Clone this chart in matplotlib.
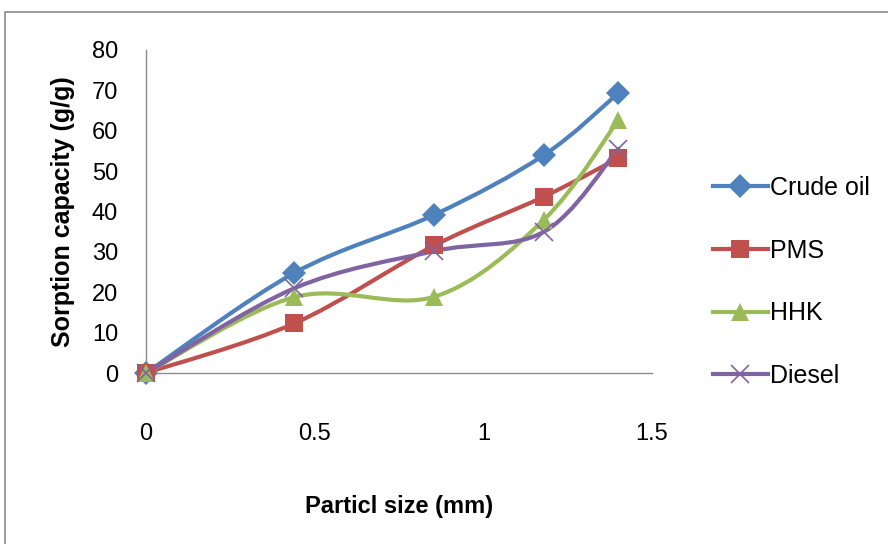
import numpy as np
import matplotlib
matplotlib.use("Agg")
import matplotlib.pyplot as plt
from matplotlib.patches import Rectangle
from matplotlib.path import Path
from matplotlib.patches import PathPatch

plt.rcParams['font.family'] = ['Liberation Sans', 'DejaVu Sans']

# particle sizes (mm) and sorption capacities (g/g)
sizes = [0, 0.44, 0.855, 1.18, 1.4]
crude_oil = [0, 24.8, 39.2, 54, 69.3]
pms = [0, 12.3, 31.6, 43.7, 53.2]
hhk = [0, 18.8, 18.9, 38, 62.6]
diesel = [0, 21, 30.2, 35, 55.5]

labels = ["Crude oil", "PMS", "HHK", "Diesel"]
colors = ["#4F81BD", "#C0504D", "#9BBB59", "#8064A2"]
markers = ["D", "s", "^", "x"]
msizes = [12, 13, 13, 13]


def smooth_path(x, y):
    # excel style smoothed line: catmull-rom -> cubic bezier
    pts = np.column_stack([x, y]).astype(float)
    n = len(pts)
    verts = [pts[0]]
    codes = [Path.MOVETO]
    for i in range(n - 1):
        p0 = pts[i - 1] if i > 0 else pts[i]
        p1 = pts[i]
        p2 = pts[i + 1]
        p3 = pts[i + 2] if i + 2 < n else pts[i + 1]
        c1 = p1 + (p2 - p0) / 6.0
        c2 = p2 - (p3 - p1) / 6.0
        verts += [c1, c2, p2]
        codes += [Path.CURVE4] * 3
    return Path(verts, codes)


fig = plt.figure(figsize=(8.88, 5.44), dpi=100)
fig.patches.append(Rectangle((5 / 888, -0.1), 1.1, 1 - 12 / 544 + 0.1, transform=fig.transFigure,
                             fill=False, edgecolor="#8c8c8c", linewidth=1.2))

ax = fig.add_axes([146 / 888, 1 - 373 / 544, (652 - 146) / 888, (373 - 50) / 544])

series = [crude_oil, pms, hhk, diesel]
for vals, lab, c, m, ms in zip(series, labels, colors, markers, msizes):
    ax.add_patch(PathPatch(smooth_path(sizes, vals), facecolor="none", edgecolor=c,
                           linewidth=3, zorder=2, capstyle="round", joinstyle="round"))
    mew = 1.2 if m == "x" else 0
    ax.plot(sizes, vals, linestyle="none", marker=m, markersize=ms, color=c,
            markeredgewidth=mew, zorder=3, clip_on=False)
    ax.plot([], [], color=c, linewidth=3, marker=m, markersize=ms, markeredgewidth=mew, label=lab)

ax.set_xlim(0, 1.5)
ax.set_ylim(0, 80)
ax.set_xticks([0, 0.5, 1, 1.5])
ax.set_xticklabels(["0", "0.5", "1", "1.5"])
ax.set_yticks(range(0, 81, 10))
for s in ["top", "right"]:
    ax.spines[s].set_visible(False)
for s in ["left", "bottom"]:
    ax.spines[s].set_color("#8c8c8c")
    ax.spines[s].set_linewidth(1)
ax.tick_params(axis="both", length=0, labelsize=17)
ax.tick_params(axis="x", pad=36)
ax.tick_params(axis="y", pad=20)

ax.set_ylabel("Sorption capacity (g/g)", fontsize=18, fontweight="bold", labelpad=12)
ax.set_xlabel("Particl size (mm)", fontsize=17, fontweight="bold", labelpad=36)

leg = fig.legend(loc="center left", bbox_to_anchor=(690 / 888, 1 - 282 / 544), frameon=False,
                 fontsize=18, labelspacing=1.55, handlelength=2.2, handletextpad=0.1)

fig.savefig("out.png", dpi=100)
